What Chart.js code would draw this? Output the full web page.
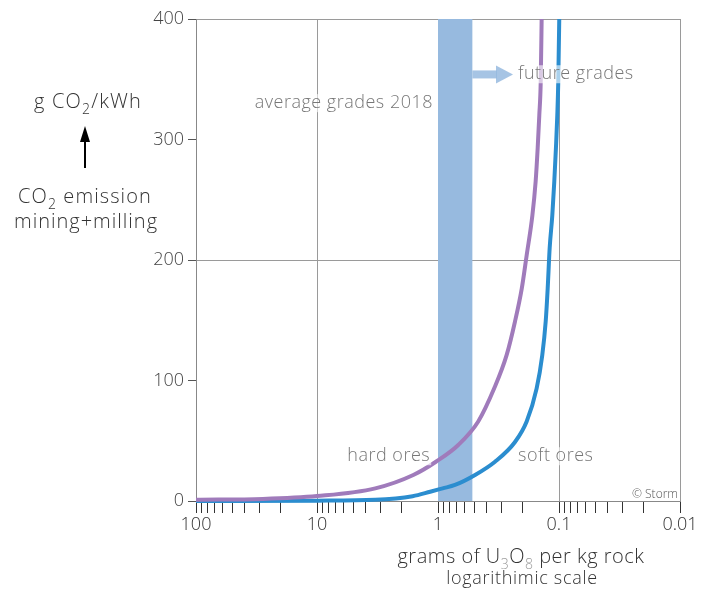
<!DOCTYPE html>
<html>
<head>
<meta charset="utf-8">
<script src="https://cdn.jsdelivr.net/npm/chart.js@4.4.1/dist/chart.umd.min.js"></script>
<style>
  html, body { margin: 0; padding: 0; background: #fff; }
</style>
</head>
<body>
<canvas id="c" width="708" height="592"></canvas>
<script>
// grams of U3O8 per kg rock vs g CO2/kWh (mining + milling)
const hardGrade = [100, 28, 10, 3.3, 1.6, 1.04, 0.68, 0.465, 0.343, 0.271, 0.231, 0.203, 0.185, 0.166, 0.156, 0.15, 0.1455, 0.1416, 0.139, 0.1372];
const hardCO2 = [1, 1.7, 4.1, 10.5, 21.6, 32.6, 46.5, 66, 93.5, 121, 149, 176.5, 204, 237, 265, 293, 320, 348, 403, 440];

const softGrade = [100, 10, 3.3, 1.62, 1.16, 0.915, 0.724, 0.494, 0.338, 0.231, 0.185, 0.153, 0.1375, 0.1288, 0.124, 0.1194, 0.1136, 0.1094, 0.106, 0.1033, 0.1014, 0.0994, 0.0985];
const softCO2 = [0, 0.3, 1, 4, 7.7, 10.5, 13.3, 21.6, 32.6, 49, 66, 93.5, 121, 149, 176.5, 210, 237, 265, 293, 320, 348, 403, 440];

const majorTicks = [100, 10, 1, 0.1, 0.01];
const majorLabels = ["100", "10", "1", "0.1", "0.01"];
const minorSteps = [2, 3, 4, 5, 6, 7, 8, 9];
const yTicks = [0, 100, 200, 300, 400];
const yGridAt = [200, 400];

// band of average grades 2018, arrow to future grades
const bandGrades = [1, 0.52];
const arrowGrades = [0.52, 0.24];
const arrowCO2 = 354;

const noteText = ["average grades 2018", "future grades", "hard ores", "soft ores"];
const noteGrade = [1.1, 0.218, 1.16, 0.218];
const noteCO2 = [326, 350, 33, 33];
const noteAlign = ["right", "left", "right", "left"];

const FONT = "'Open Sans', Lato, sans-serif";
const PURPLE = "#a07bbb";
const BLUE = "#2b8dcf";
const BAND = "#97badf";
const NOTE = "#777";

function toPoints(xs, ys) {
  return xs.map((x, i) => ({ x: x, y: ys[i] }));
}

const xTickValues = [];
majorTicks.forEach((m, i) => {
  xTickValues.push(m);
  if (i < majorTicks.length - 1) {
    const lower = majorTicks[i + 1];
    for (let k = minorSteps.length - 1; k >= 0; k--) {
      xTickValues.push(Number((lower * minorSteps[k]).toPrecision(3)));
    }
  }
});

function drawRich(ctx, parts, x, y, align, size, color, spacing) {
  const subSize = Math.round(size * 0.68);
  ctx.letterSpacing = (spacing || 0) + "px";
  let total = 0;
  parts.forEach((p) => {
    ctx.font = `300 ${p.sub ? subSize : size}px ${FONT}`;
    p.w = ctx.measureText(p.t).width;
    total += p.w;
  });
  let cx = align === "center" ? x - total / 2 : align === "right" ? x - total : x;
  ctx.textAlign = "left";
  ctx.textBaseline = "alphabetic";
  parts.forEach((p) => {
    ctx.font = `300 ${p.sub ? subSize : size}px ${FONT}`;
    ctx.fillStyle = p.color || color;
    ctx.fillText(p.t, cx, p.sub ? y + size * 0.28 : y);
    cx += p.w;
  });
  ctx.letterSpacing = "0px";
}

const bandPlugin = {
  id: "band",
  beforeDatasetsDraw(chart) {
    const { ctx, chartArea, scales } = chart;
    const x0 = scales.x.getPixelForValue(bandGrades[0]);
    const x1 = scales.x.getPixelForValue(bandGrades[1]);
    ctx.save();
    ctx.fillStyle = BAND;
    ctx.fillRect(x0, chartArea.top, x1 - x0, chartArea.bottom - chartArea.top);
    ctx.restore();
  },
};

const notesPlugin = {
  id: "notes",
  afterDatasetsDraw(chart) {
    const { ctx, scales } = chart;
    ctx.save();

    // arrow towards future grades
    const ax0 = scales.x.getPixelForValue(arrowGrades[0]);
    const ax1 = scales.x.getPixelForValue(arrowGrades[1]);
    const ay = scales.y.getPixelForValue(arrowCO2);
    ctx.fillStyle = "rgba(151,186,223,0.85)";
    ctx.fillRect(ax0, ay - 4, ax1 - ax0 - 16, 8);
    ctx.beginPath();
    ctx.moveTo(ax1 - 17, ay - 9);
    ctx.lineTo(ax1, ay);
    ctx.lineTo(ax1 - 17, ay + 9);
    ctx.closePath();
    ctx.fill();

    ctx.font = `300 18px ${FONT}`;
    ctx.letterSpacing = "0.5px";
    ctx.textBaseline = "alphabetic";
    noteText.forEach((t, i) => {
      const px = scales.x.getPixelForValue(noteGrade[i]);
      const py = scales.y.getPixelForValue(noteCO2[i]);
      const w = ctx.measureText(t).width;
      const left = noteAlign[i] === "right" ? px - w : px;
      ctx.fillStyle = "rgba(255,255,255,0.6)";
      ctx.fillRect(left - 1, py - 14, w + 2, 18);
      ctx.fillStyle = NOTE;
      ctx.textAlign = "left";
      ctx.fillText(t, left, py);
    });
    ctx.letterSpacing = "0px";

    ctx.font = `300 12px ${FONT}`;
    ctx.fillStyle = "#555";
    ctx.textAlign = "right";
    ctx.fillText("\u00a9 Storm", scales.x.getPixelForValue(0.0104), scales.y.getPixelForValue(2.5));
    ctx.restore();
  },
  afterDraw(chart) {
    const { ctx } = chart;
    ctx.save();
    // y axis caption
    drawRich(ctx, [{ t: "g CO" }, { t: "2", sub: true }, { t: "/kWh" }], 88, 108, "center", 20, "#333", 1.2);
    ctx.strokeStyle = "#000";
    ctx.lineWidth = 2;
    ctx.beginPath();
    ctx.moveTo(85, 168);
    ctx.lineTo(85, 138);
    ctx.stroke();
    ctx.fillStyle = "#000";
    ctx.beginPath();
    ctx.moveTo(85, 126);
    ctx.lineTo(80, 142);
    ctx.lineTo(90, 142);
    ctx.closePath();
    ctx.fill();
    drawRich(ctx, [{ t: "CO" }, { t: "2", sub: true }, { t: " emission" }], 85, 203, "center", 20, "#333", 1.1);
    drawRich(ctx, [{ t: "mining+milling" }], 86, 228, "center", 20, "#333", 1);

    // x axis caption
    drawRich(
      ctx,
      [
        { t: "grams of U" },
        { t: "3", sub: true, color: "#999" },
        { t: "O" },
        { t: "8", sub: true, color: "#999" },
        { t: " per kg rock" },
      ],
      521, 563, "center", 20, "#333", 0.5
    );
    drawRich(ctx, [{ t: "logarithimic scale" }], 522, 584, "center", 18, "#333", 0.7);
    ctx.restore();
  },
};

new Chart(document.getElementById("c"), {
  type: "line",
  data: {
    datasets: [
      {
        label: "hard ores",
        data: toPoints(hardGrade, hardCO2),
        borderColor: PURPLE,
        borderWidth: 4,
        pointRadius: 0,
        cubicInterpolationMode: "monotone",
        clip: { left: 2, top: 0, right: 0, bottom: 3 },
      },
      {
        label: "soft ores",
        data: toPoints(softGrade, softCO2),
        borderColor: BLUE,
        borderWidth: 4,
        pointRadius: 0,
        cubicInterpolationMode: "monotone",
        clip: { left: 2, top: 0, right: 0, bottom: 3 },
      },
    ],
  },
  options: {
    responsive: false,
    animation: false,
    layout: { padding: { left: 0, right: 28, top: 19, bottom: 0 } },
    plugins: {
      legend: { display: false },
      tooltip: { enabled: false },
    },
    scales: {
      x: {
        type: "logarithmic",
        reverse: true,
        min: 0.01,
        max: 100,
        afterBuildTicks: (scale) => {
          scale.ticks = xTickValues.map((v) => ({ value: v }));
        },
        afterFit: (scale) => {
          scale.height = 91;
        },
        ticks: {
          autoSkip: false,
          maxRotation: 0,
          padding: 1,
          color: "#333",
          font: { family: FONT, size: 18, weight: "300" },
          callback: (v) => {
            const i = majorTicks.findIndex((m) => Math.abs(m - v) < m * 1e-6);
            return i >= 0 ? majorLabels[i] : "";
          },
        },
        grid: {
          color: (ctx) => {
            const v = ctx.tick ? ctx.tick.value : null;
            return v !== null && v < 50 && majorTicks.some((m) => Math.abs(m - v) < m * 1e-6)
              ? "#9a9a9a"
              : "rgba(0,0,0,0)";
          },
          tickColor: "#333",
          tickLength: 12,
          lineWidth: 1,
        },
        border: { color: "#888", width: 1 },
      },
      y: {
        min: 0,
        max: 400,
        afterBuildTicks: (scale) => {
          scale.ticks = yTicks.map((v) => ({ value: v }));
        },
        afterFit: (scale) => {
          scale.width = 196;
        },
        ticks: {
          padding: 4,
          color: "#444",
          font: { family: FONT, size: 18, weight: "300" },
        },
        grid: {
          color: (ctx) => (ctx.tick && yGridAt.includes(ctx.tick.value) ? "#9a9a9a" : "rgba(0,0,0,0)"),
          tickColor: "#555",
          tickLength: 8,
          lineWidth: 1,
        },
        border: { color: "#888", width: 1 },
      },
    },
  },
  plugins: [bandPlugin, notesPlugin],
});
</script>
</body>
</html>
